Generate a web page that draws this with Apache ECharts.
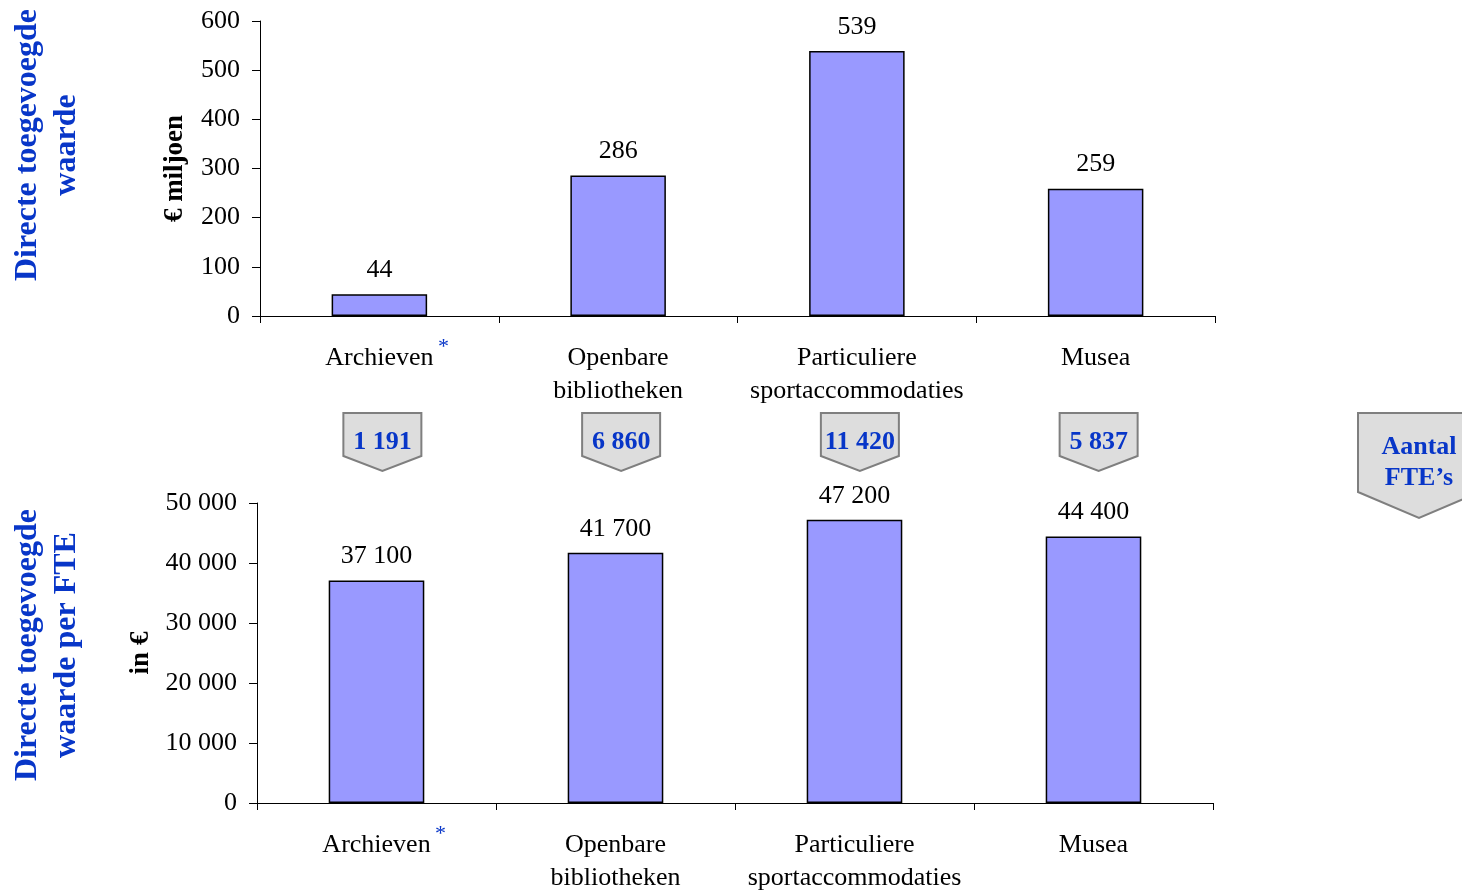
<!DOCTYPE html>
<html>
<head>
<meta charset="utf-8">
<script src="https://cdn.jsdelivr.net/npm/echarts@6/dist/echarts.min.js"></script>
<style>html,body{margin:0;padding:0;background:#fff}#c{width:1462px;height:890px}</style>
</head>
<body>
<div id="c"></div>
<script>
const categories = ['Archieven', 'Openbare\nbibliotheken', 'Particuliere\nsportaccommodaties', 'Musea'];
const valueAdded = [44, 286, 539, 259];          // € miljoen
const valuePerFte = [37100, 41700, 47200, 44400]; // in €
const fteCounts = [1191, 6860, 11420, 5837];
const topTicks = {min: 0, max: 600, interval: 100};
const bottomTicks = {min: 0, max: 50000, interval: 10000};

const FONT = '"Liberation Serif", "Times New Roman", serif';
const BLUE = '#0836c8';
const fmt = v => String(v).replace(/\B(?=(\d{3})+(?!\d))/g, ' ');

const chart = echarts.init(document.getElementById('c'), null, {renderer: 'canvas'});

function xAxis(gi) {
  return {
    type: 'category', gridIndex: gi, data: categories,
    axisLine: {lineStyle: {color: '#000', width: 1}},
    axisTick: {show: true, length: 7, lineStyle: {color: '#000'}},
    axisLabel: {interval: 0, color: '#000', fontFamily: FONT, fontSize: 26, lineHeight: 33, margin: 26}
  };
}
function yAxis(gi, ticks, name, gap) {
  return {
    type: 'value', gridIndex: gi, min: ticks.min, max: ticks.max, interval: ticks.interval,
    name: name, nameLocation: 'middle', nameRotate: 90, nameGap: gap,
    nameTextStyle: {fontFamily: FONT, fontSize: 27, fontWeight: 'bold', color: '#000'},
    axisLine: {show: true, lineStyle: {color: '#000', width: 1}},
    axisTick: {show: true, length: 8, lineStyle: {color: '#000'}},
    splitLine: {show: false},
    axisLabel: {color: '#000', fontFamily: FONT, fontSize: 26, margin: 20, formatter: v => fmt(v)}
  };
}
function barSeries(gi, data) {
  return {
    type: 'bar', xAxisIndex: gi, yAxisIndex: gi, data: data, barWidth: '40%',
    itemStyle: {color: '#9999ff', borderColor: '#000', borderWidth: 1.5},
    label: {show: true, position: 'top', distance: 11, color: '#000', fontFamily: FONT, fontSize: 26,
      formatter: p => fmt(p.value)}
  };
}

chart.setOption({
  animation: false,
  backgroundColor: '#fff',
  grid: [
    {left: 260, right: 247, top: 21, height: 295, outerBoundsMode: 'none', containLabel: false},
    {left: 257, right: 249, top: 503, height: 300, outerBoundsMode: 'none', containLabel: false}
  ],
  xAxis: [xAxis(0), xAxis(1)],
  yAxis: [yAxis(0, topTicks, '€ miljoen', 71), yAxis(1, bottomTicks, 'in €', 101)],
  series: [barSeries(0, valueAdded), barSeries(1, valuePerFte)]
});

// Annotations positioned from the axes
const g = [];
function vtitle(text, x, y) {
  g.push({type: 'text', x: x, y: y, rotation: Math.PI / 2,
    style: {text: text, fill: BLUE, font: 'bold 32px ' + FONT, align: 'center', verticalAlign: 'middle', lineHeight: 39}});
}
vtitle('Directe toegevoegde\nwaarde', 47, 145);
vtitle('Directe toegevoegde\nwaarde per FTE', 47, 645);

function chevron(cx, top, w, shoulder, tip, fillText, textY, fontSize, lh) {
  g.push({type: 'polygon', shape: {points: [
    [cx - w / 2, top], [cx + w / 2, top], [cx + w / 2, shoulder], [cx, tip], [cx - w / 2, shoulder]]},
    style: {fill: '#dddddd', stroke: '#7f7f7f', lineWidth: 2}});
  g.push({type: 'text', x: cx, y: textY, style: {text: fillText, fill: BLUE,
    font: 'bold ' + fontSize + 'px ' + FONT, align: 'center', verticalAlign: 'middle', lineHeight: lh}});
}
const axisY0 = chart.convertToPixel({yAxisIndex: 0}, 0);
const axisY1 = chart.convertToPixel({yAxisIndex: 1}, 0);
categories.forEach((c, i) => {
  const cx = chart.convertToPixel({xAxisIndex: 0}, c);
  chevron(cx + 3, 413, 78, 456, 471, fmt(fteCounts[i]), 442, 26, 30);
});
chevron(1419, 413, 122, 492, 518, 'Aantal\nFTE’s', 463, 26, 31);

// asterisks after "Archieven"
[[0, axisY0], [1, axisY1]].forEach(([ai, ay]) => {
  const cx = chart.convertToPixel({xAxisIndex: ai}, categories[0]);
  g.push({type: 'text', x: cx + 64, y: ay + 31, style: {text: '*', fill: BLUE,
    font: '22px ' + FONT, align: 'center', verticalAlign: 'middle'}});
});

chart.setOption({graphic: g});
</script>
</body>
</html>
